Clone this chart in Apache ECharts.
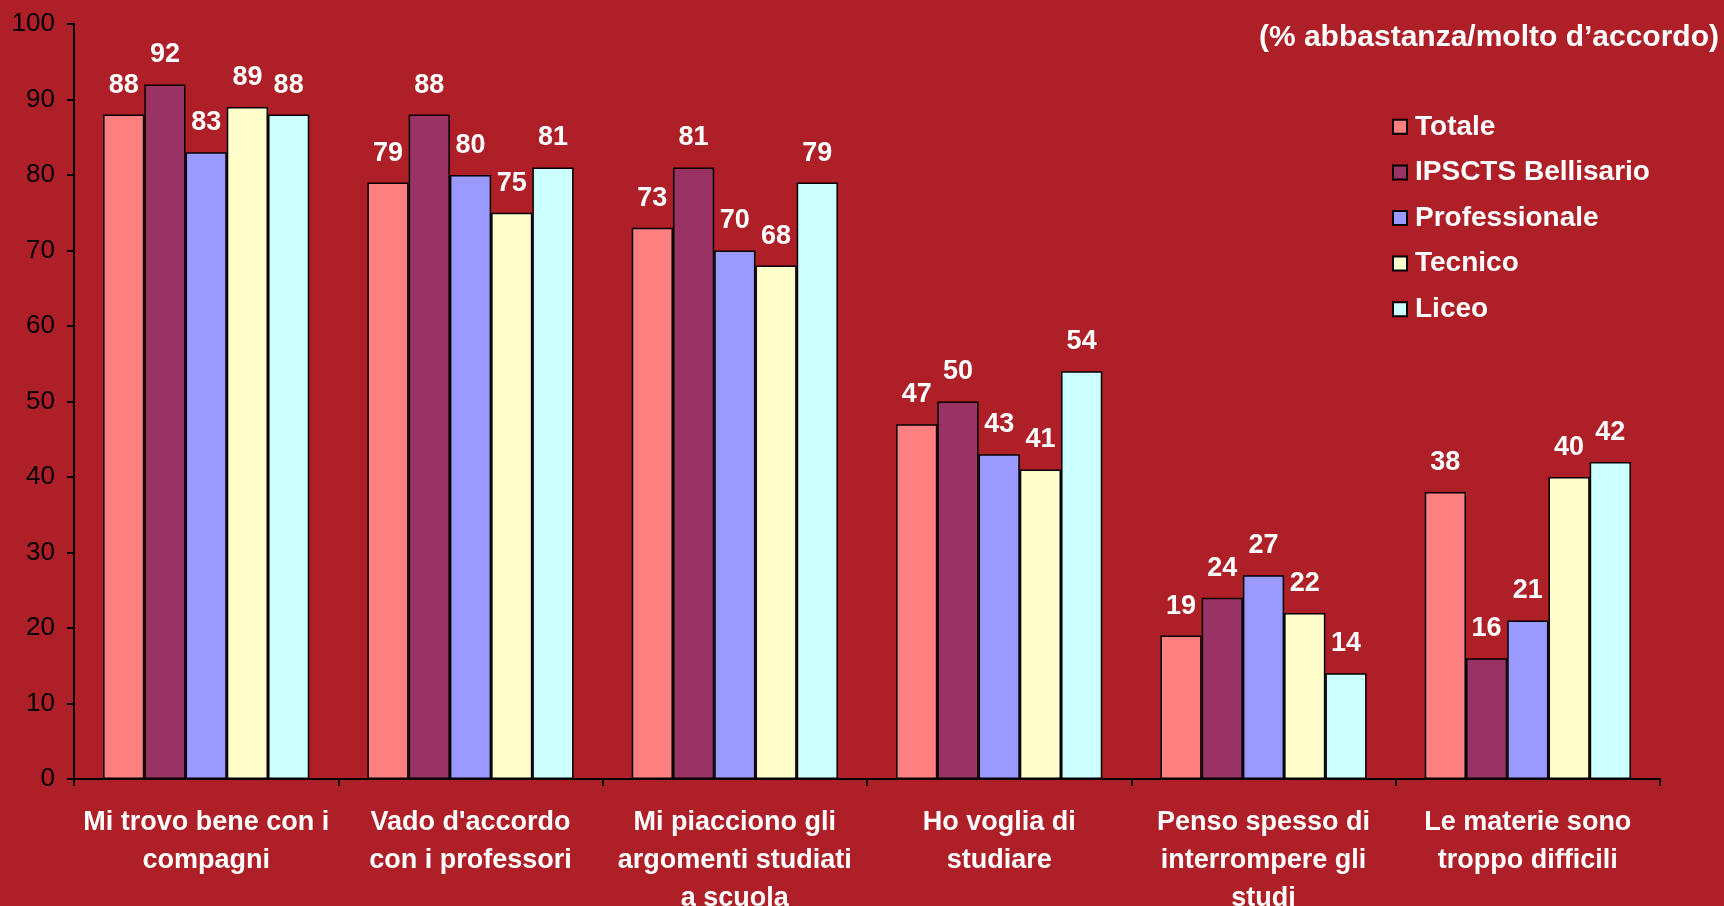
<!DOCTYPE html>
<html><head><meta charset="utf-8">
<script src="https://cdn.jsdelivr.net/npm/echarts@6/dist/echarts.min.js"></script>
<style>html,body{margin:0;padding:0;background:#AF1F27;}#c{width:1724px;height:906px;}</style>
</head><body><div id="c"></div>
<script>
const categories = [
  "Mi trovo bene con i\ncompagni",
  "Vado d'accordo\ncon i professori",
  "Mi piacciono gli\nargomenti studiati\na scuola",
  "Ho voglia di\nstudiare",
  "Penso spesso di\ninterrompere gli\nstudi",
  "Le materie sono\ntroppo difficili"
];
const seriesNames = ["Totale", "IPSCTS Bellisario", "Professionale", "Tecnico", "Liceo"];
const totale = [88, 79, 73, 47, 19, 38];
const bellisario = [92, 88, 81, 50, 24, 16];
const professionale = [83, 80, 70, 43, 27, 21];
const tecnico = [89, 75, 68, 41, 22, 40];
const liceo = [88, 81, 79, 54, 14, 42];
const colors = ["#FF8080", "#993366", "#9999FF", "#FFFFCC", "#CCFFFF"];
const titleText = "(% abbastanza/molto d\u2019accordo)";

const values = [totale, bellisario, professionale, tecnico, liceo];
const chart = echarts.init(document.getElementById('c'), null, {renderer: 'canvas'});
const FONT = '"Liberation Sans", Arial, sans-serif';
chart.setOption({
  backgroundColor: '#AF1F27',
  animation: false,
  title: {
    text: titleText, right: 0, top: 18,
    textStyle: {color: '#fff', fontWeight: 'bold', fontSize: 30, fontFamily: FONT}
  },
  legend: {
    orient: 'vertical', left: 1387, top: 106,
    itemWidth: 14, itemHeight: 14, itemGap: 14, icon: 'rect',
    textStyle: {color: '#fff', fontWeight: 'bold', fontSize: 28, fontFamily: FONT, lineHeight: 31.6, padding: [0,0,0,3]},
    data: seriesNames
  },
  grid: {left: 74, right: 64, top: 24, bottom: 127, containLabel: false, outerBoundsMode: 'none'},
  xAxis: {
    type: 'category', data: categories,
    axisLine: {lineStyle: {color: '#000', width: 2}},
    axisTick: {show: true, length: 7, lineStyle: {color: '#000', width: 2}, alignWithLabel: false},
    axisLabel: {color: '#fff', fontWeight: 'bold', fontSize: 27, fontFamily: FONT, lineHeight: 38, margin: 25, interval: 0}
  },
  yAxis: {
    type: 'value', min: 0, max: 100, interval: 10,
    splitLine: {show: false},
    axisLine: {show: true, lineStyle: {color: '#000', width: 2}},
    axisTick: {show: true, length: 7, lineStyle: {color: '#000', width: 2}},
    axisLabel: {color: '#000', fontSize: 26, fontFamily: FONT, margin: 19}
  },
  series: seriesNames.map((n, i) => ({
    name: n, type: 'bar', data: values[i],
    barGap: '0%', barCategoryGap: '22%',
    itemStyle: {color: colors[i], borderColor: '#000', borderWidth: 1.5},
    label: {show: true, position: 'top', distance: 16, color: '#fff', fontWeight: 'bold', fontSize: 27, fontFamily: FONT}
  }))
});
</script></body></html>
